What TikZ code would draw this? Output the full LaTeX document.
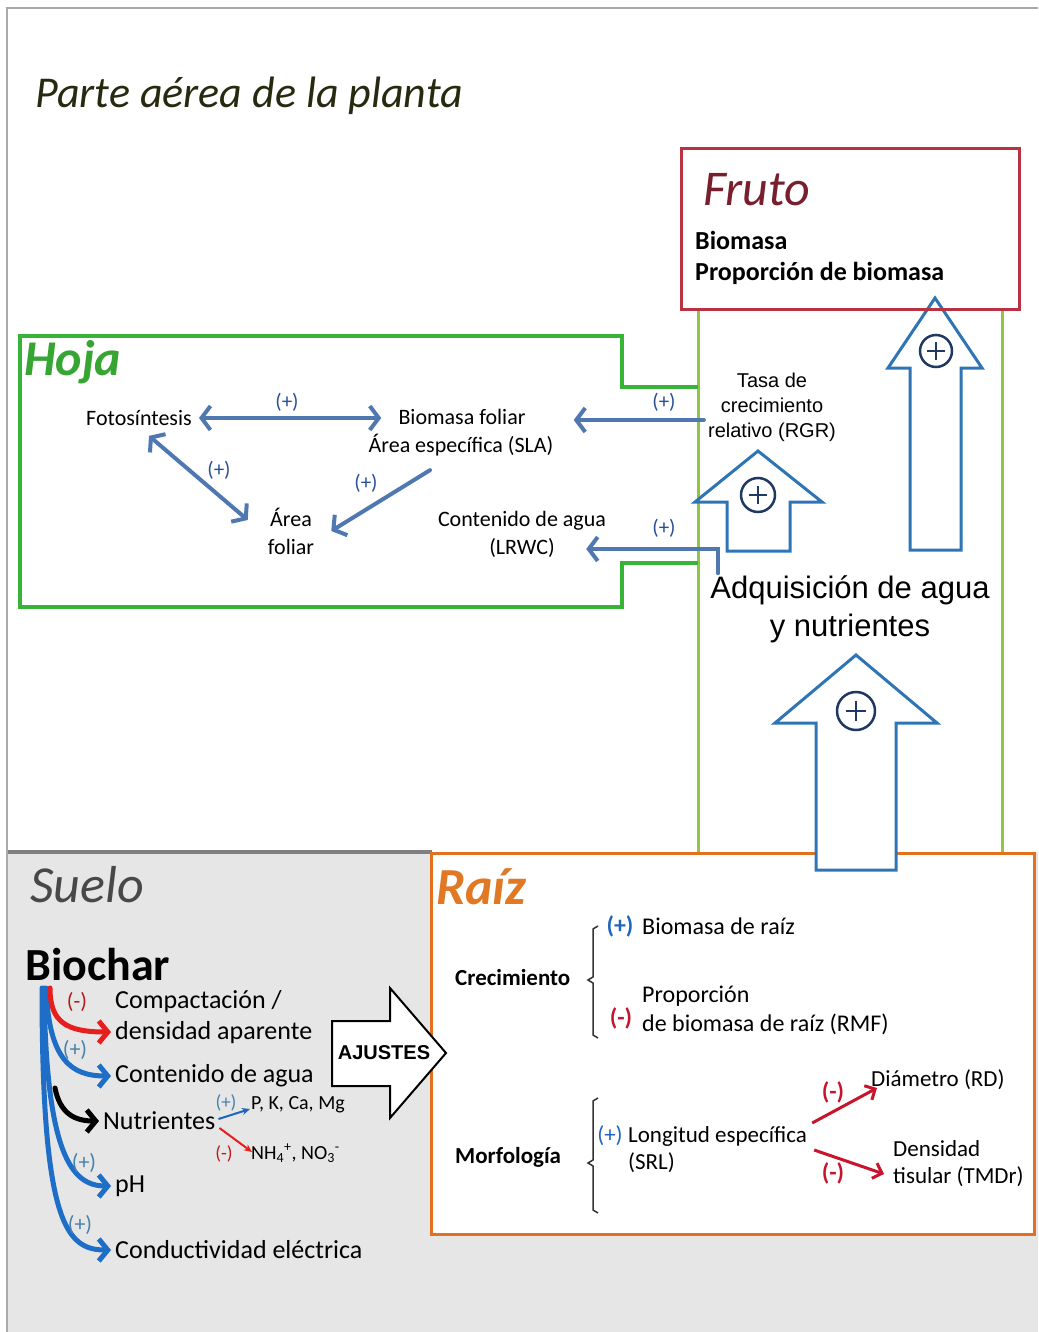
\documentclass[tikz,border=0pt]{standalone}
\usepackage{fontspec}
\setmainfont{Carlito}
\newfontfamily\arialf{Liberation Sans}
\usetikzlibrary{arrows.meta}
\definecolor{barrow}{RGB}{79,120,176}
\definecolor{plusblue}{RGB}{40,80,150}
\definecolor{hollowblue}{RGB}{46,117,182}
\definecolor{navyc}{RGB}{31,56,100}
\definecolor{suelblue}{RGB}{30,110,200}
\definecolor{sred}{RGB}{230,30,30}
\definecolor{plusteal}{RGB}{70,130,170}
\definecolor{rblue}{RGB}{31,100,190}
\definecolor{rred}{RGB}{200,20,45}
\definecolor{frutored}{RGB}{185,50,65}
\definecolor{frutotext}{RGB}{120,30,45}
\definecolor{hojagreen}{RGB}{55,180,55}
\definecolor{hojatext}{RGB}{55,165,50}
\definecolor{lgreen}{RGB}{141,198,63}
\definecolor{raizor}{RGB}{226,112,31}
\definecolor{raiztext}{RGB}{225,120,35}
\definecolor{suelobg}{RGB}{230,230,230}
\definecolor{sepgray}{RGB}{128,128,128}
\definecolor{bordergray}{RGB}{170,170,170}
\definecolor{titlecol}{RGB}{40,42,15}
\definecolor{suelotext}{RGB}{72,72,72}
\newcommand\fsz[2]{\fontsize{#1}{#2}\selectfont}
\newcommand\cplusmark[3]{%
  \draw[navyc,line width=2.5pt] (#1,#2) circle[radius=#3];
  \draw[navyc,line width=2.5pt] (#1-0.55*#3,#2) -- (#1+0.55*#3,#2) (#1,#2-0.55*#3) -- (#1,#2+0.55*#3);}
\begin{document}
\begin{tikzpicture}[x=1pt,y=-1pt,
  txt/.style={inner sep=4pt},
  htext/.style={txt,font=\fsz{22}{28}},
  hplus/.style={txt,font=\fsz{21}{21},text=plusblue},
  harrow/.style={draw=barrow,line width=4pt,line cap=round},
  hb/.tip={Straight Barb[length=9pt,width=24pt]},
  sb/.tip={Straight Barb[length=9pt,width=22pt]},
  rb/.tip={Straight Barb[length=8pt,width=16pt]},
  nb/.tip={Stealth[length=8pt,width=7pt]},
  sarrow/.style={line width=5pt,-sb,line cap=round},
  stext/.style={txt,anchor=west,font=\fsz{26}{31}},
  splus/.style={txt,font=\fsz{22}{22}},
  rtext/.style={txt,anchor=west,font=\fsz{24}{29}},
  rbold/.style={txt,anchor=west,font=\bfseries\fsz{23}{28}},
  rsign/.style={txt,font=\bfseries\fsz{24}{24}},
  hollow/.style={draw=hollowblue,fill=white,line width=3pt,line join=miter},
  bracket/.style={draw=black!80,line width=1.5pt}]
\useasboundingbox (0,0) rectangle (1038,1332);
\fill[white] (0,0) rectangle (1038,1332);
% soil background
\fill[suelobg] (8,852) rectangle (1038,1332);
\draw[bordergray,line width=2pt] (7,1332) -- (7,8) -- (1038,8);
\draw[sepgray,line width=4pt] (8,852) -- (432,852);

% title
\node[txt,anchor=west,font=\itshape\fsz{44}{48},text=titlecol] (title) at (31,96) {Parte aérea de la planta};

% light green connectors
\draw[lgreen,line width=3pt] (698,308) -- (698,852);
\draw[lgreen,line width=3pt] (1002,308) -- (1002,852);

% tall hollow arrow (behind fruit box)
\draw[hollow] (935,298) -- (982,368) -- (961,368) -- (961,550) -- (910,550) -- (910,368) -- (888,368) -- cycle;
\cplusmark{936}{351}{16}

% fruit box
\node[draw=frutored,line width=3pt,anchor=north west,minimum width=338pt,minimum height=161pt,inner sep=0pt] (frutobox) at (680,147) {};
\node[txt,anchor=west,font=\itshape\fsz{50}{54},text=frutotext] (fruto) at (699,190) {Fruto};
\node[txt,anchor=west,font=\bfseries\fsz{26}{30}] (fb1) at (691,240) {Biomasa};
\node[txt,anchor=west,font=\bfseries\fsz{26}{30}] (fb2) at (691,273) {Proporción de biomasa};

% leaf box
\draw[hojagreen,line width=3.5pt] (698,387) -- (622,387) -- (622,336) -- (20,336) -- (20,607) -- (622,607) -- (622,563) -- (698,563);
\node[txt,anchor=west,font=\bfseries\itshape\fsz{50}{54},text=hojatext] (hoja) at (20,362) {Hoja};

\node[htext] (foto) at (139,418) {Fotosíntesis};
\node[htext] (biomf) at (462,417) {Biomasa foliar};
\node[htext] (sla) at (461,445) {Área específica (SLA)};
\node[htext,align=center] (area) at (291,531) {Área\\foliar};
\node[htext,align=center] (lrwc) at (522,534) {Contenido de agua\\(LRWC)};
\node[txt,align=center,font=\arialf\fsz{20}{25}] (rgr) at (772,407) {Tasa de\\crecimiento\\relativo (RGR)};
\node[txt,align=center,font=\arialf\fsz{31}{38}] (adq) at (850,609) {Adquisición de agua\\y nutrientes};

\draw[harrow,hb-hb,shorten <=3pt,shorten >=13pt] (foto.east) -- (foto.east -| biomf.west);
\draw[harrow,hb-hb] ([xshift=10pt,yshift=-6pt]foto.south) -- ([xshift=-16pt,yshift=11pt]area.west);
\draw[harrow,-hb] ([xshift=-31pt,yshift=-10pt]sla.south) -- ([xshift=13pt]area.east);
\draw[harrow,-hb] ([yshift=-13pt]rgr.west) -- ([xshift=44pt,yshift=-3pt]biomf.east);
\draw[harrow,-hb] ([xshift=-132pt,yshift=-2pt]adq.north) |- ([xshift=-24pt,yshift=-15pt]lrwc.east);

\node[hplus] (pl1) at (287,402) {(+)};
\node[hplus] (pl2) at (219,470) {(+)};
\node[hplus] (pl3) at (366,483) {(+)};
\node[hplus] (pl4) at (664,402) {(+)};
\node[hplus] (pl5) at (664,528) {(+)};

% small hollow arrow
\draw[hollow] (758,451) -- (822,502) -- (790,502) -- (790,551) -- (727,551) -- (727,502) -- (695,502) -- cycle;
\cplusmark{758}{495}{17}

% root box
\node[draw=raizor,fill=white,line width=3pt,anchor=north west,minimum width=603pt,minimum height=381pt,inner sep=0pt] (raizbox) at (430,852) {};
\node[txt,anchor=west,font=\bfseries\itshape\fsz{52}{56},text=raiztext] (raiz) at (432,887) {Raíz};

% bottom hollow arrow (over root box edge)
\draw[hollow] (856,655) -- (937,723) -- (896,723) -- (896,870) -- (816,870) -- (816,723) -- (775,723) -- cycle;
\cplusmark{856}{711}{19}

% root content
\node[rbold] (crec) at (451,978) {Crecimiento};
\draw[bracket] (598,926) -- (593,929) -- (593,977) -- (588,980) -- (593,983) -- (593,1035) -- (598,1038);
\node[rsign,text=rblue] (rp1) at (620,926) {(+)};
\node[rtext] (bioraiz) at (638,926) {Biomasa de raíz};
\node[rsign,text=rred] (rm1) at (621,1018) {(-)};
\node[rtext,align=left] (rmf) at (638,1010) {Proporción\\de biomasa de raíz (RMF)};
\node[rbold] (morf) at (451,1157) {Morfología};
\draw[bracket] (598,1098) -- (593,1101) -- (593,1160) -- (588,1163) -- (593,1166) -- (593,1210) -- (598,1213);
\node[rsign,text=rblue,font=\fsz{23}{23}] (rp2) at (610,1136) {(+)};
\node[txt,anchor=west,align=left,font=\fsz{23}{27}] (srl) at (624,1150) {Longitud específica\\(SRL)};
\node[txt,anchor=west,font=\fsz{23}{27}] (diam) at (867,1080) {Diámetro (RD)};
\node[txt,anchor=west,align=left,font=\fsz{23}{27}] (dens) at (889,1164) {Densidad\\tisular (TMDr)};
\draw[rred,line width=3pt,-rb] ([xshift=1pt,yshift=27pt]srl.east) -- ([xshift=10pt,yshift=-8pt]diam.west);
\draw[rred,line width=3pt,-rb] ([xshift=3pt]srl.east) -- ([xshift=-5pt,yshift=-10pt]dens.west);
\node[rsign,text=rred] (rm2) at (833,1092) {(-)};
\node[rsign,text=rred] (rm3) at (833,1173) {(-)};

% soil
\node[txt,anchor=west,font=\itshape\fsz{52}{56},text=suelotext] (suelo) at (26,885) {Suelo};
\node[txt,anchor=west,font=\bfseries\fsz{46}{50}] (biochar) at (21,965) {Biochar};
\coordinate (bc) at (44,988);
\coordinate (bk) at (55,1088);
\node[stext,align=left] (comp) at (111,1017) {Compactación /\\densidad aparente};
\node[stext] (cont) at (111,1076) {Contenido de agua};
\node[stext] (nutr) at (99,1121) {Nutrientes};
\node[stext] (ph) at (111,1186) {pH};
\node[stext] (cond) at (111,1250) {Conductividad eléctrica};

\draw[sarrow,suelblue] ([xshift=-2pt]bc) .. controls +(0,235) and +(-45,0) .. (cond.west);
\draw[sarrow,suelblue] (bc) .. controls +(2,165) and +(-40,0) .. (ph.west);
\draw[sarrow,suelblue] ([xshift=2pt]bc) .. controls +(3,72) and +(-40,0) .. (cont.west);
\draw[sarrow,black] (bk) .. controls +(5,25) and +(-25,0) .. (nutr.west);
\draw[sarrow,sred] ([xshift=6pt]bc) .. controls +(0,34) and +(-45,0) .. ([yshift=-15pt]comp.west);

\node[splus,text=sred!80!black] (sm1) at (77,1002) {(-)};
\node[splus,text=plusteal] (sp1) at (75,1050) {(+)};
\node[splus,text=plusteal] (sp2) at (84,1163) {(+)};
\node[splus,text=plusteal] (sp3) at (80,1225) {(+)};

\node[txt,anchor=west,font=\fsz{20}{24}] (pk) at (247,1105) {P, K, Ca, Mg};
\node[txt,anchor=west,font=\fsz{20}{24}] (nh) at (247,1153) {NH\textsubscript{4}\textsuperscript{+}, NO\textsubscript{3}\textsuperscript{-}};
\draw[rblue,line width=2pt,-nb] ([xshift=-1pt,yshift=2pt]nutr.east) -- ([xshift=3pt,yshift=-4pt]pk.west);
\draw[sred,line width=2pt,-nb] ([xshift=0pt,yshift=-7pt]nutr.east) -- ([xshift=5pt,yshift=1pt]nh.west);
\node[splus,font=\fsz{19}{19},text=plusteal] (sp4) at (226,1103) {(+)};
\node[splus,font=\fsz{19}{19},text=sred!85!black] (sm2) at (224,1154) {(-)};

% AJUSTES arrow
\draw[black,fill=white,line width=2pt,line join=miter] (332,1021) -- (390,1021) -- (390,988) -- (446,1053) -- (390,1118) -- (390,1086) -- (332,1086) -- cycle;
\node[txt,font=\arialf\bfseries\fsz{20}{20}] (ajustes) at (384,1053) {AJUSTES};
\end{tikzpicture}
\end{document}
